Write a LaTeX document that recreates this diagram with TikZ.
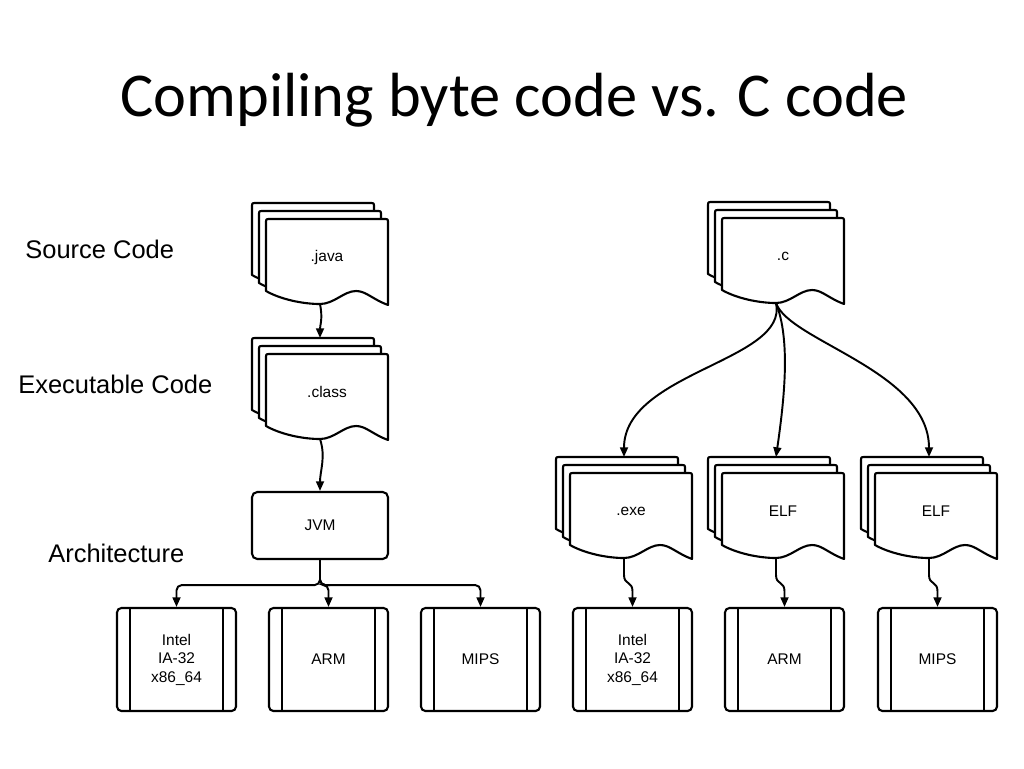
\documentclass[tikz,border=0pt]{standalone}
\usepackage{fontspec}
\setmainfont{Liberation Sans}
\newfontfamily\titlefont{Carlito}
\usetikzlibrary{arrows.meta}

\newcommand{\boxfont}{\fontsize{8.8}{10.5}\selectfont}

\tikzset{
  page/.style={draw, fill=white, line width=1.2pt, line join=round},
  doctext/.style={font=\boxfont, inner sep=0pt},
  lbl/.style={inner sep=0pt, font=\fontsize{14.5}{17}\selectfont},
  vm/.style={draw, line width=1.2pt, rounded corners=3pt,
    minimum width=2.72cm, minimum height=1.34cm, font=\boxfont},
  cpu/.style={draw, line width=1.2pt, rounded corners=2.5pt,
    minimum width=2.38cm, minimum height=2.06cm, align=center,
    font=\boxfont, inner sep=0pt,
    path picture={
      \draw[line width=1.2pt]
        ([xshift=7.4pt]path picture bounding box.north west) --
        ([xshift=7.4pt]path picture bounding box.south west)
        ([xshift=-7.4pt]path picture bounding box.north east) --
        ([xshift=-7.4pt]path picture bounding box.south east);
    }},
  arr/.style={line width=1.1pt, -{Triangle[length=5.5pt,width=4.5pt]}},
  docstack/.pic={
    \foreach \dx/\dy in {14/16,7/8,0/0}
      \draw[page, shift={(-\dx,-\dy)}]
        (122,86) .. controls (106,80) and (100,72) .. (90,72)
                 .. controls (78,72) and (68,85) .. (54,85)
                 .. controls (36,85) and (14,80) .. (0,72)
        -- (0,4) .. controls (0,0) .. (4,0)
        -- (118,0) .. controls (122,0) .. (122,4) -- cycle;
    \node[doctext] (-txt) at (61,38) {#1};
    \coordinate (-in) at (54,-16);
    \coordinate (-out) at (54,85);
  }
}

\begin{document}
\begin{tikzpicture}[x=0.02cm, y=-0.02cm]
  \useasboundingbox (0,0) rectangle (1024,768);

  \node[anchor=base west, inner sep=0pt,
    font=\titlefont\fontsize{35.5}{42}\selectfont]
    (title) at (120,116) {Compiling byte code vs. C code};

  % row labels
  \node[lbl, anchor=base west] (src) at (25,258) {Source Code};
  \node[lbl, anchor=base west] (exec) at (18,393) {Executable Code};
  \node[lbl, anchor=base west] (arch) at (48,562) {Architecture};

  % byte code side
  \pic (java) at (266,219) {docstack=.java};
  \pic (class) at (266,354) {docstack=.class};
  \node[vm] (jvm) at (320,525.5) {JVM};
  \node[cpu] (intela) at (176.5,659.5) {Intel\\IA-32\\x86\_64};
  \node[cpu] (arma) at (328.5,659.5) {ARM};
  \node[cpu] (mipsa) at (480.5,659.5) {MIPS};

  % C side
  \pic (c) at (722,218) {docstack=.c};
  \pic (exe) at (570,473) {docstack=.exe};
  \pic (elfa) at (722,473) {docstack=ELF};
  \pic (elfb) at (875,473) {docstack=ELF};
  \node[cpu] (intelb) at (632.5,659.5) {Intel\\IA-32\\x86\_64};
  \node[cpu] (armb) at (784.5,659.5) {ARM};
  \node[cpu] (mipsb) at (937.5,659.5) {MIPS};

  \draw[arr] (java-out) .. controls +(3,15) and +(0,-13) .. (class-in);
  \draw[arr] (class-out) .. controls +(6,18) and +(0,-20) .. (jvm.north);
  \draw[arr, rounded corners=3pt] (jvm.south) -- ++(0,25) -| (intela.north);
  \draw[arr, rounded corners=3pt] (jvm.south) -- ++(0,25) -| (arma.north);
  \draw[arr, rounded corners=3pt] (jvm.south) -- ++(0,25) -| (mipsa.north);

  \draw[arr] (c-out) .. controls +(13,58) and +(0,-85) .. (exe-in);
  \draw[arr] (c-out) .. controls +(15,38) and +(8,-56) .. (elfa-in);
  \draw[arr] (c-out) .. controls +(13,38) and +(0,-86) .. (elfb-in);
  \draw[arr] (exe-out) -- ++(0,17) .. controls +(0,10) and +(0,-10)
    .. ([yshift=9pt]intelb.north) -- (intelb.north);
  \draw[arr] (elfa-out) -- ++(0,17) .. controls +(0,10) and +(0,-10)
    .. ([yshift=9pt]armb.north) -- (armb.north);
  \draw[arr] (elfb-out) -- ++(0,17) .. controls +(0,10) and +(0,-10)
    .. ([yshift=9pt]mipsb.north) -- (mipsb.north);
\end{tikzpicture}
\end{document}
